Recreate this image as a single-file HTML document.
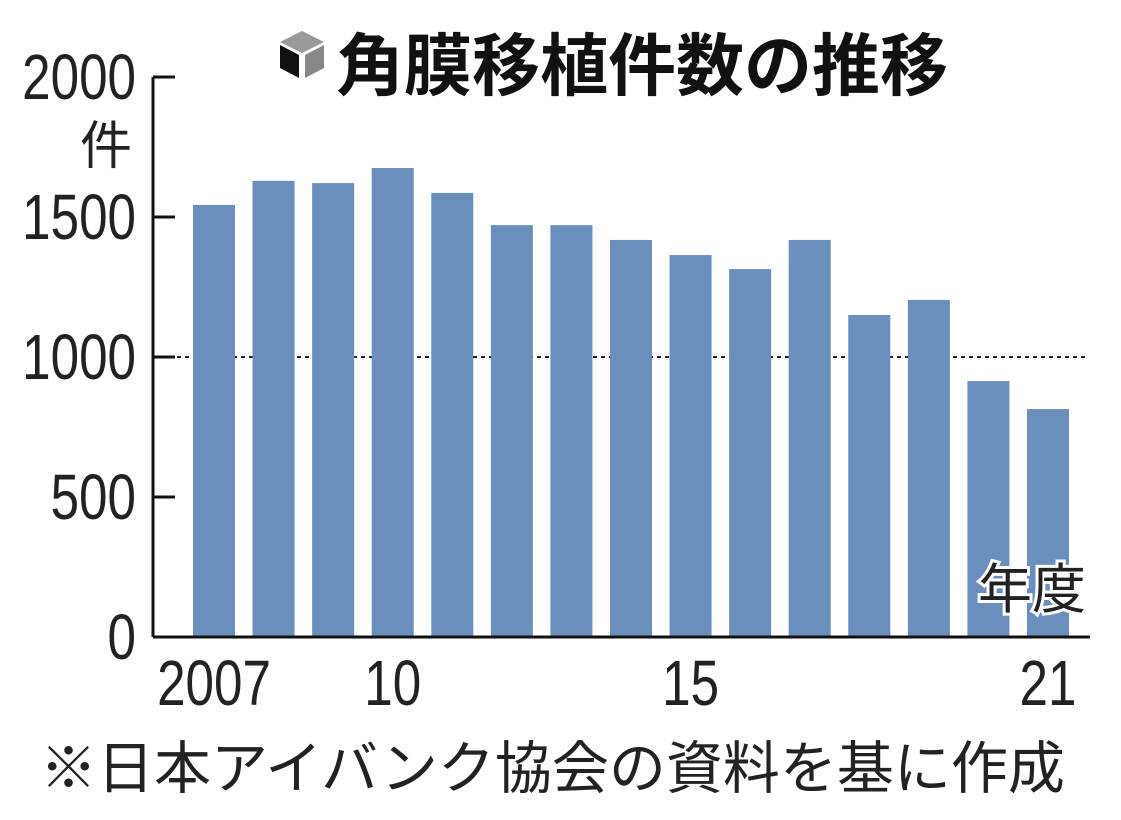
<!DOCTYPE html>
<html><head><meta charset="utf-8"><style>
body{margin:0;background:#fff;}
svg text{font-family:"Liberation Sans","Noto Sans CJK JP",sans-serif;}
</style></head><body>
<svg width="1121" height="815" viewBox="0 0 1121 815">
<g>
<g>
<polygon points="280,42 302,31 324,42 302,53" fill="#999"/>
<polygon points="280,45 299,55 299,78 280,68" fill="#111"/>
<polygon points="305,55 324,45 324,68 305,78" fill="#888"/>
</g>
<text x="336" y="90" font-size="68" font-weight="bold" fill="#111">角膜移植件数の推移</text>
</g>
<g id="yaxis"></g>
<g id="bars"></g>
<g id="xaxis"></g>
<text x="1086" y="608" font-size="54" text-anchor="end" fill="#222" stroke="#fff" stroke-width="6" paint-order="stroke">年度</text>
<text x="132" y="164" font-size="52" text-anchor="end" fill="#222">件</text>
<text x="40" y="788" font-size="57" fill="#222">※日本アイバンク協会の資料を基に作成</text>
</svg>
<script>
const years=[2007,2008,2009,2010,2011,2012,2013,2014,2015,2016,2017,2018,2019,2020,2021];
const counts=[1543,1629,1621,1675,1586,1471,1471,1418,1364,1314,1418,1150,1204,914,814];
const yTicks=[0,500,1000,1500,2000];
const xLabels=[{i:0,t:"2007"},{i:3,t:"10"},{i:8,t:"15"},{i:14,t:"21"}];
const NS="http://www.w3.org/2000/svg";
const y=v=>637-v*0.28;
const bx=i=>193+i*59.57;
const bw=42;
function mk(tag,attrs,parent){const e=document.createElementNS(NS,tag);for(const k in attrs)e.setAttribute(k,attrs[k]);parent.appendChild(e);return e;}
const ya=document.getElementById('yaxis'),bg=document.getElementById('bars'),xa=document.getElementById('xaxis');
years.forEach((yr,i)=>{
 const r=mk('rect',{x:bx(i),y:y(counts[i]),width:bw,height:y(0)-y(counts[i]),fill:'#6a8fbd'},bg);
 
 
});
const dl=mk('line',{x1:153,x2:1088,y1:y(1000),y2:y(1000),stroke:'#222','stroke-width':2,'stroke-dasharray':'4,4'},ya);


const al=mk('line',{x1:153,x2:153,y1:y(2000),y2:y(0),stroke:'#111','stroke-width':3},ya);


yTicks.forEach(v=>{
 const t=mk('line',{x1:153,x2:175,y1:y(v),y2:y(v),stroke:'#111','stroke-width':3},ya);
 
 
 const lb=mk('text',{x:0,y:0,'font-size':64,'text-anchor':'end',fill:'#222',transform:`translate(136,${y(v)+22}) scale(0.8,1)`},ya);
 lb.textContent=v;
 
 
});
const xl=mk('line',{x1:153,x2:1090,y1:y(0),y2:y(0),stroke:'#111','stroke-width':3},xa);


xLabels.forEach(o=>{
 const lb=mk('text',{x:0,y:0,'font-size':64,'text-anchor':'middle',fill:'#222',transform:`translate(${bx(o.i)+bw/2},705) scale(0.8,1)`},xa);
 lb.textContent=o.t;
 
 
});
</script>
</body></html>
